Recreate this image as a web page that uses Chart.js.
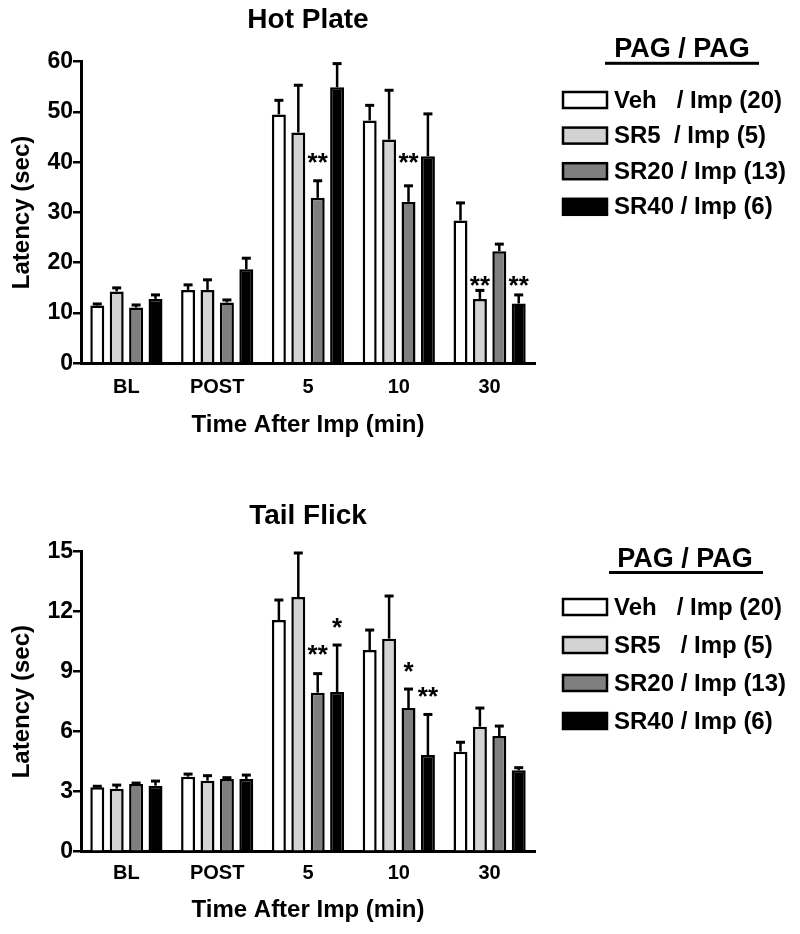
<!DOCTYPE html>
<html>
<head>
<meta charset="utf-8">
<script src="https://cdn.jsdelivr.net/npm/chart.js@4.4.0/dist/chart.umd.min.js"></script>
<style>
  body { margin: 0; background: #fff; }
  canvas { display: block; }
</style>
</head>
<body>
<canvas id="hot" width="800" height="467"></canvas>
<canvas id="tail" width="800" height="467"></canvas>
<script>
// time points
const groups = ['BL', 'POST', '5', '10', '30'];

// Hot Plate latency (sec), mean and SEM
const hotVeh = [11.5, 14.6, 49.5, 48.3, 28.4];
const hotSR5 = [14.3, 14.6, 45.9, 44.5, 12.8];
const hotSR20 = [11.1, 12.1, 32.9, 32.1, 22.3];
const hotSR40 = [12.8, 18.7, 54.9, 41.2, 11.9];
const hotVehErr = [0.3, 1.0, 2.8, 3.0, 3.5];
const hotSR5Err = [0.7, 2.0, 9.4, 9.8, 1.7];
const hotSR20Err = [0.5, 0.5, 3.4, 3.2, 1.4];
const hotSR40Err = [0.8, 2.2, 4.7, 8.4, 1.7];
const hotTicks = [0, 10, 20, 30, 40, 50, 60];
// [series, group, mark, level]
const hotStars = [[2, '5', '**', 40.8], [2, '10', '**', 40.8], [1, '30', '**', 16.4], [3, '30', '**', 16.4]];
const hotLabels = ['Veh   / Imp (20)', 'SR5  / Imp (5)', 'SR20 / Imp (13)', 'SR40 / Imp (6)'];

// Tail Flick latency (sec), mean and SEM
const tailVeh = [3.22, 3.75, 11.58, 10.08, 5.0];
const tailSR5 = [3.15, 3.55, 12.73, 10.65, 6.25];
const tailSR20 = [3.38, 3.63, 7.95, 7.18, 5.78];
const tailSR40 = [3.3, 3.63, 7.98, 4.83, 4.07];
const tailVehErr = [0.05, 0.13, 1.0, 1.0, 0.47];
const tailSR5Err = [0.18, 0.25, 2.2, 2.13, 0.93];
const tailSR20Err = [0.05, 0.07, 0.95, 0.95, 0.5];
const tailSR40Err = [0.23, 0.2, 2.35, 2.03, 0.13];
const tailTicks = [0, 3, 6, 9, 12, 15];
const tailStars = [[2, '5', '**', 10.1], [3, '5', '*', 11.45], [2, '10', '*', 9.25], [3, '10', '**', 8.0]];
const tailLabels = ['Veh   / Imp (20)', 'SR5   / Imp (5)', 'SR20 / Imp (13)', 'SR40 / Imp (6)'];

const fills = ['#ffffff', '#d3d3d3', '#7f7f7f', '#000000'];
const FONT = '"Liberation Sans", Arial, Helvetica, sans-serif';

const errorBars = {
    id: 'errbars',
    afterDatasetsDraw(chart, args, opts) {
        const ctx = chart.ctx;
        const y = chart.scales.y;
        ctx.save();
        ctx.strokeStyle = '#000';
        chart.data.datasets.forEach((ds, i) => {
            const meta = chart.getDatasetMeta(i);
            meta.data.forEach((bar, j) => {
                const top = y.getPixelForValue(ds.data[j] + opts.errors[i][j]);
                ctx.lineWidth = 2.5;
                ctx.beginPath();
                ctx.moveTo(bar.x, bar.y);
                ctx.lineTo(bar.x, top);
                ctx.stroke();
                ctx.lineWidth = 3;
                ctx.beginPath();
                ctx.moveTo(bar.x - 4.5, top);
                ctx.lineTo(bar.x + 4.5, top);
                ctx.stroke();
            });
        });
        // significance marks
        ctx.fillStyle = '#000';
        ctx.font = 'bold 26px ' + FONT;
        ctx.textAlign = 'center';
        ctx.textBaseline = 'alphabetic';
        opts.stars.forEach(s => {
            const bar = chart.getDatasetMeta(s[0]).data[groups.indexOf(s[1])];
            ctx.fillText(s[2], bar.x, y.getPixelForValue(s[3]) + 13);
        });
        ctx.restore();
    }
};

const sideLegend = {
    id: 'sidelegend',
    afterDraw(chart, args, opts) {
        const ctx = chart.ctx;
        ctx.save();
        ctx.fillStyle = '#000';
        ctx.font = 'bold 27px ' + FONT;
        ctx.textAlign = 'center';
        ctx.textBaseline = 'alphabetic';
        ctx.fillText('PAG / PAG', opts.headX, opts.headY);
        ctx.fillRect(opts.lineX0, opts.lineY - 1.5, opts.lineX1 - opts.lineX0, 3);
        ctx.font = 'bold 24px ' + FONT;
        ctx.textAlign = 'left';
        ctx.textBaseline = 'middle';
        chart.data.datasets.forEach((ds, i) => {
            const cy = opts.y0 + i * opts.gap;
            ctx.fillStyle = ds.backgroundColor;
            ctx.fillRect(563, cy - 8, 44, 16);
            ctx.lineWidth = 2.5;
            ctx.strokeStyle = '#000';
            ctx.strokeRect(563, cy - 8, 44, 16);
            ctx.fillStyle = '#000';
            ctx.fillText(ds.label, 614, cy + 1);
        });
        ctx.restore();
    }
};

function makeChart(id, cfg) {
    const sets = cfg.values.map((v, i) => ({
        label: cfg.labels[i],
        data: v,
        backgroundColor: fills[i],
        borderColor: '#000',
        borderWidth: 2.5,
        borderSkipped: 'start',
        categoryPercentage: 0.855,
        barPercentage: 0.72
    }));
    return new Chart(document.getElementById(id), {
        type: 'bar',
        data: { labels: groups, datasets: sets },
        options: {
            responsive: false,
            animation: false,
            layout: { padding: { left: 0, right: 265, top: 0, bottom: 0 } },
            plugins: {
                legend: { display: false },
                tooltip: { enabled: false },
                title: {
                    display: true, text: cfg.title, color: '#000', fullSize: false,
                    font: { family: FONT, size: 28, weight: 'bold' },
                    padding: cfg.titlePad
                },
                errbars: { errors: cfg.errors, stars: cfg.stars },
                sidelegend: cfg.legend
            },
            scales: {
                x: {
                    grid: { display: false, drawTicks: false },
                    border: { display: true, color: '#000', width: 3 },
                    ticks: { color: '#000', padding: cfg.xTickPad, font: { family: FONT, size: 20, weight: 'bold' } },
                    title: {
                        display: true, text: 'Time After Imp (min)', color: '#000',
                        font: { family: FONT, size: 24, weight: 'bold' },
                        padding: { top: 0, bottom: cfg.xTitlePad }
                    },
                    afterFit: s => { s.height = cfg.xHeight; }
                },
                y: {
                    min: 0, max: cfg.ticks[cfg.ticks.length - 1],
                    afterBuildTicks: s => { s.ticks = cfg.ticks.map(v => ({ value: v })); },
                    grid: { display: true, drawOnChartArea: false, drawTicks: true, tickLength: 8, lineWidth: 2.5, color: '#000' },
                    border: { display: true, color: '#000', width: 3 },
                    ticks: { color: '#000', padding: 0, font: { family: FONT, size: 23, weight: 'bold' } },
                    title: {
                        display: true, text: 'Latency (sec)', color: '#000',
                        font: { family: FONT, size: 24, weight: 'bold' },
                        padding: { top: 8, bottom: 0 }
                    },
                    afterFit: s => { s.width = 81; }
                }
            }
        },
        plugins: [errorBars, sideLegend]
    });
}

makeChart('hot', {
    title: 'Hot Plate',
    titlePad: { top: 3, bottom: 25 },
    values: [hotVeh, hotSR5, hotSR20, hotSR40],
    errors: [hotVehErr, hotSR5Err, hotSR20Err, hotSR40Err],
    labels: hotLabels,
    ticks: hotTicks,
    stars: hotStars,
    xTickPad: 12.5,
    xTitlePad: 27,
    xHeight: 103.7,
    legend: { headX: 682, headY: 56.5, lineX0: 605, lineX1: 759, lineY: 63.3, y0: 100, gap: 35.6 }
});

makeChart('tail', {
    title: 'Tail Flick',
    titlePad: { top: 32, bottom: 19 },
    values: [tailVeh, tailSR5, tailSR20, tailSR40],
    errors: [tailVehErr, tailSR5Err, tailSR20Err, tailSR40Err],
    labels: tailLabels,
    ticks: tailTicks,
    stars: tailStars,
    xTickPad: 9.3,
    xTitlePad: 9,
    xHeight: 82.3,
    legend: { headX: 685, headY: 99.7, lineX0: 609, lineX1: 763, lineY: 105.5, y0: 140, gap: 38 }
});
</script>
</body>
</html>
